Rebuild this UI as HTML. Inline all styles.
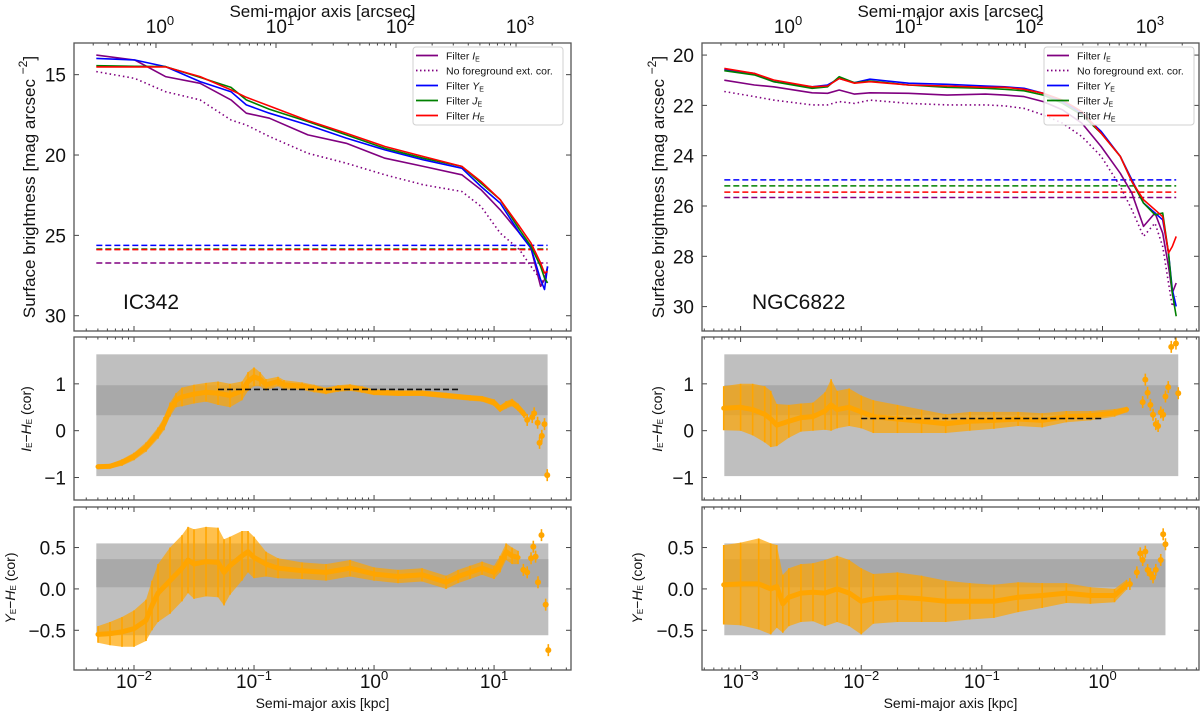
<!DOCTYPE html>
<html><head><meta charset="utf-8">
<style>
html,body{margin:0;padding:0;background:#fff;}
svg{display:block;font-family:"Liberation Sans","DejaVu Sans",sans-serif;}
</style></head>
<body>
<svg id="chart" width="1200" height="715" viewBox="0 0 1200 715" xmlns="http://www.w3.org/2000/svg"></svg>
<script>
// ===== DATA (x values are log10 of semi-major axis in kpc) =====
// IC342 surface brightness profiles
const ic342LogR = [-2.314,-1.993,-1.738,-1.449,-1.192,-1.064,-0.872,-0.551,-0.231,0.090,0.410,0.731,0.891,1.051,1.212,1.308,1.388,1.420,1.446];
const ic342H = [14.52,14.52,14.52,15.12,15.95,16.41,16.95,17.86,18.64,19.47,20.09,20.71,21.65,22.78,24.44,25.48,26.72,27.34,27.24];
const ic342J = [14.44,14.48,14.50,15.17,15.79,16.57,17.15,17.92,18.75,19.58,20.20,20.71,21.75,22.78,24.65,25.68,26.93,27.65,27.96];
const ic342Y = [13.99,14.09,14.50,15.43,16.06,16.88,17.40,18.13,18.95,19.68,20.30,20.82,21.96,22.99,24.86,25.79,27.75,28.37,26.93];
const ic342I = [13.78,14.09,15.12,15.54,16.57,17.40,17.71,18.75,19.27,20.20,20.71,21.23,22.16,23.41,24.86,25.79,28.17,27.75,26.93];
const ic342Inocor = [14.81,15.23,16.06,16.57,17.82,18.13,18.85,19.89,20.51,21.23,21.85,22.27,23.20,24.86,25.89,26.93,27.75,27.96,27.86];
const ic342Limits = [25.62,25.85,25.89,26.72]; // Y, J, H, I
// NGC6822 surface brightness profiles
const n6822LogR = [-3.135,-2.886,-2.726,-2.407,-2.279,-2.183,-2.056,-1.928,-1.608,-1.289,-0.970,-0.810,-0.650,-0.491,-0.331,-0.171,-0.011,0.148,0.244,0.340,0.435,0.499,0.547,0.579,0.611];
const n6822H = [20.53,20.73,20.99,21.26,21.23,20.93,21.12,21.06,21.19,21.23,21.28,21.28,21.36,21.52,21.79,22.25,23.11,24.03,25.03,25.75,26.15,26.42,27.87,27.61,27.21];
const n6822J = [20.62,20.79,21.06,21.32,21.26,20.86,21.10,21.03,21.19,21.28,21.32,21.36,21.42,21.59,21.92,22.38,23.11,24.03,25.03,25.88,26.35,26.28,27.87,29.46,30.38];
const n6822Y = [20.58,20.73,21.06,21.26,21.19,20.93,21.10,20.96,21.12,21.16,21.23,21.26,21.32,21.52,21.85,22.31,23.04,24.03,24.96,25.88,26.28,26.55,27.87,29.32,29.99];
const n6822I = [21.00,21.19,21.26,21.50,21.52,21.39,21.55,21.50,21.52,21.59,21.55,21.59,21.65,21.85,22.18,22.71,23.64,24.70,25.49,26.81,26.28,27.08,28.40,29.46,29.06];
const n6822Inocor = [21.45,21.65,21.79,21.98,21.98,21.85,21.92,21.79,21.92,21.98,21.98,22.02,22.12,22.38,22.71,23.24,24.03,25.22,26.15,27.21,26.68,27.61,29.06,29.99,29.59];
const n6822Limits = [24.96,25.20,25.45,25.66];
// IC342 I-H colour
const ic342IHLogR = [-2.3,-2.2,-2.1,-2.0,-1.9,-1.8,-1.75,-1.7,-1.65,-1.6,-1.5,-1.4,-1.3,-1.2,-1.1,-1.05,-1.0,-0.95,-0.9,-0.8,-0.75,-0.6,-0.5,-0.4,-0.3,-0.2,-0.1,0.0,0.2,0.4,0.6,0.8,0.9,1.0,1.05,1.1,1.15,1.2,1.25];
const ic342IH = [-0.77,-0.76,-0.68,-0.55,-0.35,-0.05,0.15,0.45,0.65,0.72,0.78,0.82,0.80,0.75,0.85,1.05,1.15,1.10,0.98,1.05,0.98,0.95,0.90,0.85,0.90,0.92,0.88,0.82,0.80,0.80,0.75,0.70,0.68,0.60,0.47,0.55,0.60,0.50,0.35];
const ic342IHErr = [0.05,0.05,0.07,0.08,0.1,0.12,0.14,0.15,0.15,0.2,0.2,0.2,0.25,0.25,0.2,0.2,0.2,0.15,0.12,0.1,0.1,0.08,0.08,0.07,0.07,0.07,0.07,0.06,0.06,0.06,0.06,0.06,0.06,0.07,0.07,0.08,0.08,0.08,0.08];
const ic342IHScatLogR = [1.276,1.318,1.334,1.363,1.379,1.398,1.420,1.443];
const ic342IHScat = [0.23,0.29,0.37,0.17,-0.26,-0.11,0.14,-0.95];
const ic342IHMean = 0.88, ic342IHMeanRange = [-1.30,0.70];
// IC342 Y-H colour
const ic342YHLogR = [-2.3,-2.2,-2.1,-2.0,-1.9,-1.85,-1.8,-1.7,-1.6,-1.55,-1.5,-1.4,-1.3,-1.25,-1.2,-1.1,-1.05,-1.0,-0.9,-0.8,-0.6,-0.4,-0.2,0.0,0.2,0.4,0.6,0.7,0.8,0.9,1.0,1.05,1.1,1.15,1.2];
const ic342YH = [-0.55,-0.54,-0.52,-0.48,-0.38,-0.2,-0.05,0.1,0.25,0.35,0.3,0.33,0.32,0.2,0.28,0.4,0.45,0.38,0.3,0.25,0.22,0.2,0.25,0.18,0.15,0.17,0.08,0.15,0.2,0.25,0.2,0.3,0.45,0.4,0.38];
const ic342YHErr = [0.1,0.14,0.18,0.22,0.25,0.3,0.35,0.4,0.4,0.4,0.42,0.42,0.42,0.4,0.35,0.3,0.25,0.25,0.15,0.12,0.1,0.1,0.1,0.08,0.08,0.08,0.08,0.08,0.08,0.08,0.08,0.1,0.1,0.1,0.08];
const ic342YHScatLogR = [1.244,1.276,1.308,1.327,1.346,1.366,1.395,1.430,1.452];
const ic342YHScat = [0.23,0.2,0.37,0.51,0.39,0.08,0.65,-0.19,-0.74];
// NGC6822 I-H colour
const n6822IHLogR = [-3.14,-3.0,-2.9,-2.8,-2.75,-2.7,-2.6,-2.5,-2.4,-2.3,-2.25,-2.2,-2.1,-2.0,-1.9,-1.7,-1.5,-1.3,-1.1,-0.9,-0.7,-0.5,-0.3,-0.1,0.1,0.2];
const n6822IH = [0.48,0.5,0.45,0.35,0.25,0.12,0.2,0.28,0.3,0.42,0.55,0.45,0.5,0.4,0.3,0.25,0.2,0.15,0.2,0.22,0.25,0.22,0.3,0.32,0.38,0.45];
const n6822IHErr = [0.47,0.5,0.55,0.6,0.6,0.45,0.35,0.3,0.3,0.4,0.55,0.4,0.4,0.35,0.35,0.3,0.25,0.2,0.2,0.18,0.15,0.15,0.12,0.1,0.08,0.06];
const n6822IHScatLogR = [0.333,0.355,0.374,0.397,0.419,0.442,0.461,0.483,0.503,0.522,0.545,0.570,0.609,0.628];
const n6822IHScat = [0.61,1.09,0.81,0.55,0.34,0.14,0.10,0.39,0.34,0.73,0.93,1.79,1.86,0.8];
const n6822IHMean = 0.26, n6822IHMeanRange = [-2.0,0.0];
// NGC6822 Y-H colour
const n6822YHLogR = [-3.14,-3.0,-2.85,-2.75,-2.7,-2.65,-2.6,-2.5,-2.4,-2.3,-2.2,-2.1,-2.0,-1.9,-1.7,-1.5,-1.3,-1.1,-0.9,-0.7,-0.5,-0.3,-0.1,0.1,0.2];
const n6822YH = [0.05,0.06,0.06,0.0,0.03,-0.18,-0.1,-0.05,-0.04,-0.05,0.0,-0.05,-0.15,-0.12,-0.1,-0.12,-0.15,-0.15,-0.15,-0.1,-0.08,-0.05,-0.08,-0.08,0.05];
const n6822YHErr = [0.48,0.5,0.55,0.55,0.5,0.35,0.35,0.35,0.35,0.4,0.4,0.4,0.4,0.3,0.3,0.28,0.25,0.22,0.2,0.18,0.15,0.12,0.1,0.08,0.06];
const n6822YHScatLogR = [0.227,0.285,0.313,0.333,0.355,0.374,0.397,0.419,0.442,0.483,0.503,0.522];
const n6822YHScat = [0.06,0.2,0.43,0.35,0.45,0.23,0.18,0.14,0.23,0.35,0.66,0.54];

// ===== DRAWING =====
const NS = "http://www.w3.org/2000/svg";
const svg = document.getElementById('chart');
function mk(tag, attrs, parent){
  const e = document.createElementNS(NS, tag);
  for (const k in attrs) e.setAttribute(k, attrs[k]);
  (parent || svg).appendChild(e);
  return e;
}
const COL = {I:'#800080', Y:'#0000ff', J:'#008000', H:'#ff0000', O:'#ffa500'};

const cols = [
  {id:'ic342', x0:74, x1:571, lmin:-2.5, lmax:1.641, arcLog:-1.817, topY:[13.03,30.95], topTicks:[15,20,25,30], name:'IC342', nameX:123,
   bandEnd:[1.446,1.452], bandStart:-2.314, ylabX:31, midLabX:27, botLabX:11, legX:413},
  {id:'ngc6822', x0:702, x1:1199, lmin:-3.32, lmax:0.80, arcLog:-2.64, topY:[19.52,30.97], topTicks:[20,22,24,26,28,30], name:'NGC6822', nameX:752,
   bandEnd:[0.628,0.522], bandStart:-3.135, ylabX:660, midLabX:658, botLabX:638, legX:1044}
];
const rows = {top:[43,331], mid:[337,500], bot:[507,670]};

function sx(c, l){ return c.x0 + (l - c.lmin)/(c.lmax - c.lmin)*(c.x1 - c.x0); }
function syTop(c, v){ return rows.top[0] + (v - c.topY[0])/(c.topY[1]-c.topY[0])*(rows.top[1]-rows.top[0]); }
function syMid(v){ const a=-1.48,b=2.0; return rows.mid[1] - (v-a)/(b-a)*(rows.mid[1]-rows.mid[0]); }
function syBot(v){ const a=-0.98,b=0.99; return rows.bot[1] - (v-a)/(b-a)*(rows.bot[1]-rows.bot[0]); }

function frameAndTicks(c, row, yTicks, yfn, yfmt, labelBottom, labelTop){
  const [t,b] = rows[row];
  const g = mk('g', {});
  
  
  // x ticks (kpc), both bottom and top unless top panel has arcsec on top
  for (let d = Math.floor(c.lmin); d <= Math.ceil(c.lmax); d++){
    for (let m = 1; m < 10; m++){
      const l = d + Math.log10(m);
      if (l < c.lmin || l > c.lmax) continue;
      const x = sx(c, l), len = m===1 ? 5 : 2.5;
      mk('line', {x1:x, x2:x, y1:b, y2:b-len, stroke:'#444', 'stroke-width':1}, g);
      if (row !== 'top') mk('line', {x1:x, x2:x, y1:t, y2:t+len, stroke:'#444', 'stroke-width':1}, g);
      if (m===1 && labelBottom){
        const tx = mk('text', {x:x, y:688, 'font-size':19, 'text-anchor':'middle', fill:'#111'}, g);
        
        
        tx.appendChild(document.createTextNode('10'));
        const sp = mk('tspan', {dy:-8, 'font-size':13}, tx);
        sp.textContent = d < 0 ? '\u2212' + (-d) : String(d);
      }
    }
  }
  if (labelTop){
    // arcsec axis on top
    const off = c.arcLog;
    for (let d = -1; d <= 4; d++){
      for (let m = 1; m < 10; m++){
        const l = d + Math.log10(m) + off;
        if (l < c.lmin || l > c.lmax) continue;
        const x = sx(c, l), len = m===1 ? 5 : 2.5;
        mk('line', {x1:x, x2:x, y1:t, y2:t+len, stroke:'#444', 'stroke-width':1}, g);
        if (m===1){
          const tx = mk('text', {x:x+4, y:33, 'font-size':19, 'text-anchor':'middle', fill:'#111'}, g);
          
          
          tx.appendChild(document.createTextNode('10'));
          const sp = mk('tspan', {dy:-8, 'font-size':13}, tx);
          sp.textContent = String(d);
        }
      }
    }
  }
  yTicks.forEach(v => {
    const y = yfn(v);
    mk('line', {x1:c.x0, x2:c.x0+5, y1:y, y2:y, stroke:'#444', 'stroke-width':1}, g);
    mk('line', {x1:c.x1, x2:c.x1-5, y1:y, y2:y, stroke:'#444', 'stroke-width':1}, g);
    const tx = mk('text', {x:c.x0-8, y:y+7, 'font-size':19, 'text-anchor':'end', fill:'#111'}, g);
    
    
    tx.textContent = yfmt(v);
  });
  mk('rect', {x:c.x0, y:t, width:c.x1-c.x0, height:b-t, fill:'none', stroke:'#555', 'stroke-width':1.3}, g);
}

function clip(c, row){
  const [t,b] = rows[row];
  const id = 'clip-' + c.id + '-' + row;
  const cp = mk('clipPath', {id:id});
  mk('rect', {x:c.x0, y:t, width:c.x1-c.x0, height:b-t}, cp);
  return 'url(#' + id + ')';
}

function pathFrom(c, xs, ys, yfn){
  return xs.map((l,i) => (i?'L':'M') + sx(c,l).toFixed(1) + ',' + yfn(ys[i]).toFixed(1)).join(' ');
}

function fmtNum(v, dec){ const s = Math.abs(v).toFixed(dec); return (v<0?'\u2212':'') + s; }

function colourPanel(c, row, yfn, xs, ys, es, scx, scy, bands, mean, meanRange){
  const cp = clip(c, row);
  const g = mk('g', {'clip-path':cp});
  
  
  const xa = sx(c, c.bandStart), xb = sx(c, row==='mid' ? c.bandEnd[0] : c.bandEnd[1]);
  const b1 = mk('rect', {x:xa, y:yfn(bands[1]), width:xb-xa, height:yfn(bands[0])-yfn(bands[1]), fill:'#bfbfbf'}, g);
  
  
  const b2 = mk('rect', {x:xa, y:yfn(bands[3]), width:xb-xa, height:yfn(bands[2])-yfn(bands[3]), fill:'#a9a9a9'}, g);
  
  
  // error envelope
  let d = xs.map((l,i)=> (i?'L':'M') + sx(c,l).toFixed(1) + ',' + yfn(ys[i]+es[i]).toFixed(1)).join(' ');
  for (let i = xs.length-1; i >= 0; i--) d += 'L' + sx(c,xs[i]).toFixed(1) + ',' + yfn(ys[i]-es[i]).toFixed(1);
  const env = mk('path', {d:d+'Z', fill:COL.O, 'fill-opacity':0.7}, g);
  
  
  xs.forEach((l,i) => {
    const x = sx(c,l);
    const eb = mk('line', {x1:x, x2:x, y1:yfn(ys[i]+es[i]), y2:yfn(ys[i]-es[i]), stroke:COL.O, 'stroke-width':1.6}, g);
    
    
  });
  const ln = mk('path', {d:pathFrom(c, xs, ys, yfn), fill:'none', stroke:COL.O, 'stroke-width':5, 'stroke-linejoin':'round', 'stroke-linecap':'round'}, g);
  
  
  scx.forEach((l,i) => {
    const x = sx(c,l), y = yfn(scy[i]);
    const eb = mk('line', {x1:x, x2:x, y1:y-6, y2:y+6, stroke:COL.O, 'stroke-width':1.6}, g);
    
    
    const pt = mk('circle', {cx:x, cy:y, r:3, fill:COL.O}, g);
    
    
  });
  if (mean !== null){
    const ml = mk('line', {x1:sx(c,meanRange[0]), x2:sx(c,meanRange[1]), y1:yfn(mean), y2:yfn(mean), stroke:'#111', 'stroke-width':1.6, 'stroke-dasharray':'6,3'}, g);
    
    
  }
}

function yLabel(x, y, size, parts, name){
  const t = mk('text', {x:x, y:y, 'font-size':size, 'text-anchor':'middle', fill:'#111', transform:'rotate(-90 '+x+' '+y+')', 'dominant-baseline':'middle'});
  
  
  parts.forEach(p => {
    const s = mk('tspan', p.a || {}, t);
    s.textContent = p.t;
  });
}
function colourLabel(x, y, a, b){
  return [{t:a, a:{'font-style':'italic'}},{t:'E', a:{'font-size':8, dy:3}},{t:'\u2212', a:{dy:-3}},
          {t:b, a:{'font-style':'italic'}},{t:'E', a:{'font-size':8, dy:3}},{t:' (cor)', a:{dy:-3}}];
}

const topData = [
  {xs:ic342LogR, I:ic342I, N:ic342Inocor, Y:ic342Y, J:ic342J, H:ic342H, lim:ic342Limits,
   ih:[ic342IHLogR, ic342IH, ic342IHErr, ic342IHScatLogR, ic342IHScat, ic342IHMean, ic342IHMeanRange],
   yh:[ic342YHLogR, ic342YH, ic342YHErr, ic342YHScatLogR, ic342YHScat]},
  {xs:n6822LogR, I:n6822I, N:n6822Inocor, Y:n6822Y, J:n6822J, H:n6822H, lim:n6822Limits,
   ih:[n6822IHLogR, n6822IH, n6822IHErr, n6822IHScatLogR, n6822IHScat, n6822IHMean, n6822IHMeanRange],
   yh:[n6822YHLogR, n6822YH, n6822YHErr, n6822YHScatLogR, n6822YHScat]}
];

cols.forEach((c, ci) => {
  const D = topData[ci];
  const yT = v => syTop(c, v);
  // --- top panel ---
  const cp = clip(c, 'top');
  const g = mk('g', {'clip-path':cp});
  
  
  const limCols = [COL.Y, COL.J, COL.H, COL.I];
  D.lim.forEach((v, k) => {
    const l = mk('line', {x1:sx(c, D.xs[0]), x2:sx(c, D.xs[D.xs.length-1]), y1:yT(v), y2:yT(v), stroke:limCols[k], 'stroke-width':1.5, 'stroke-dasharray':'6,3'}, g);
    
    
  });
  const series = [['N', COL.I, '1.5,3'], ['I', COL.I, null], ['Y', COL.Y, null], ['J', COL.J, null], ['H', COL.H, null]];
  series.forEach(s => {
    const p = mk('path', {d:pathFrom(c, D.xs, D[s[0]], yT), fill:'none', stroke:s[1], 'stroke-width':1.6, 'stroke-linejoin':'round'}, g);
    if (s[2]) p.setAttribute('stroke-dasharray', s[2]);
    
    
  });
  frameAndTicks(c, 'top', c.topTicks, yT, v => String(v), false, true);
  const nm = mk('text', {x:c.nameX, y:309, 'font-size':21, fill:'#111'});
  
  
  nm.textContent = c.name;
  // top x-label
  const tl = mk('text', {x:(c.x0+c.x1)/2, y:17, 'font-size':17, 'text-anchor':'middle', fill:'#111'});
  
  
  tl.textContent = 'Semi-major axis [arcsec]';
  yLabel(c.ylabX, 187, 17, [{t:'Surface brightness [mag arcsec '},{t:'\u22122', a:{dy:-7, 'font-size':12}},{t:']', a:{dy:7}}], 'y-axis-title-surface-brightness');
  // legend
  const lg = mk('g', {});
  
  
  mk('rect', {x:c.legX, y:47, width:150, height:78, rx:3, fill:'#fff', 'fill-opacity':0.85, stroke:'#d0d0d0', 'stroke-width':1}, lg);
  const items = [['I', COL.I, null, 'Filter ', 'I'], ['N', COL.I, '1.5,2.5', 'No foreground ext. cor.', null], ['Y', COL.Y, null, 'Filter ', 'Y'], ['J', COL.J, null, 'Filter ', 'J'], ['H', COL.H, null, 'Filter ', 'H']];
  items.forEach((it, k) => {
    const y = 55.5 + k*15;
    const ent = mk('g', {}, lg);
    
    
    const ln = mk('line', {x1:c.legX+3, x2:c.legX+25, y1:y, y2:y, stroke:it[1], 'stroke-width':1.8}, ent);
    if (it[2]) ln.setAttribute('stroke-dasharray', it[2]);
    const tx = mk('text', {x:c.legX+33, y:y+3.8, 'font-size':10.5, fill:'#111'}, ent);
    tx.appendChild(document.createTextNode(it[3]));
    if (it[4]){
      const a = mk('tspan', {'font-style':'italic'}, tx); a.textContent = it[4];
      const b = mk('tspan', {'font-size':7, dy:2}, tx); b.textContent = 'E';
    }
  });

  // --- middle panel (I-H) ---
  colourPanel(c, 'mid', syMid, D.ih[0], D.ih[1], D.ih[2], D.ih[3], D.ih[4], [-0.97,1.63,0.33,0.97], D.ih[5], D.ih[6]);
  frameAndTicks(c, 'mid', [-1,0,1], syMid, v => fmtNum(v,0), false, false);
  yLabel(c.midLabX, 419, 14, colourLabel(0,0,'I','H'), 'y-axis-title-I-H');
  // --- bottom panel (Y-H) ---
  colourPanel(c, 'bot', syBot, D.yh[0], D.yh[1], D.yh[2], D.yh[3], D.yh[4], [-0.56,0.55,0.02,0.36], null, null);
  frameAndTicks(c, 'bot', [-0.5,0,0.5], syBot, v => fmtNum(v,1), true, false);
  yLabel(c.botLabX, 588, 14, colourLabel(0,0,'Y','H'), 'y-axis-title-Y-H');
  const bl = mk('text', {x:(c.x0+c.x1)/2, y:708, 'font-size':14, 'text-anchor':'middle', fill:'#111'});
  
  
  bl.textContent = 'Semi-major axis [kpc]';
});
</script>
</body></html>
